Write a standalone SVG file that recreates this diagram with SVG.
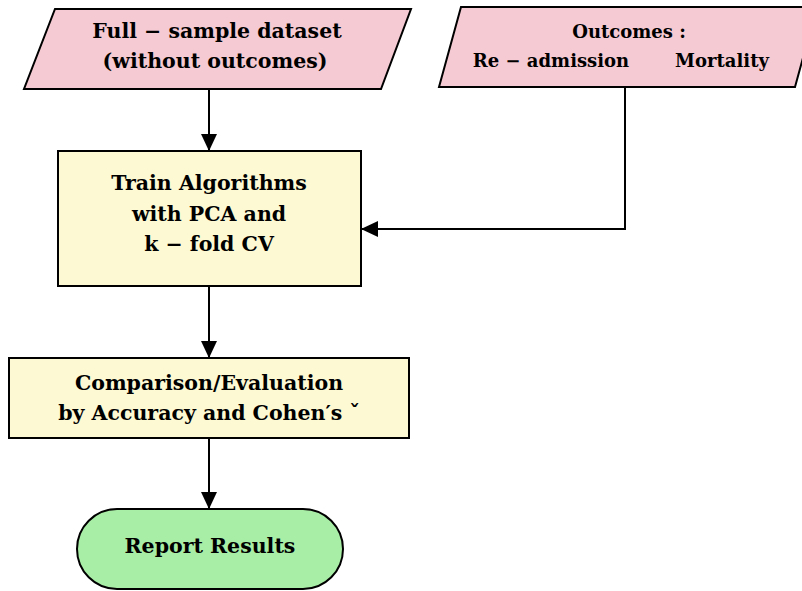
<svg xmlns="http://www.w3.org/2000/svg" width="802" height="591" viewBox="0 0 802 591">
  <defs>
    <marker id="arrow" viewBox="0 0 17 16" refX="17" refY="8" markerWidth="17" markerHeight="16" markerUnits="userSpaceOnUse" orient="auto">
      <path d="M0,0 L17,8 L0,16 z" fill="#000"/>
    </marker>
    <style>
      .shape { stroke: #000; stroke-width: 2; }
      .data { fill: #F5CAD2; }
      .proc { fill: #FDF9D3; }
      .term { fill: #A9EEA6; }
      .lbl { font-family: "DejaVu Serif", "Liberation Serif", serif; font-weight: bold; font-size: 20.5px; fill: #000; text-anchor: middle; }
      .sm { font-size: 18px; }
      .edge { fill: none; stroke: #000; stroke-width: 2; marker-end: url(#arrow); }
    </style>
  </defs>
  <rect width="802" height="591" fill="#fff"/>

  <g id="dataset">
    <polygon class="shape data" points="55,9 411,9 381,89 24,89"/>
    <text class="lbl" x="217" y="38">Full − sample dataset</text>
    <text class="lbl" x="215" y="68">(without outcomes)</text>
  </g>

  <g id="outcomes">
    <polygon class="shape data" points="461,7 817,7 795,87 439,87"/>
    <text class="lbl sm" x="629" y="38">Outcomes :</text>
    <text class="lbl sm" x="551" y="67">Re − admission</text>
    <text class="lbl sm" x="722" y="67">Mortality</text>
  </g>

  <g id="train">
    <rect class="shape proc" x="58" y="151" width="303" height="135"/>
    <text class="lbl" x="209" y="190">Train Algorithms</text>
    <text class="lbl" x="209" y="221">with PCA and</text>
    <text class="lbl" x="209" y="251">k − fold CV</text>
  </g>

  <g id="evaluate">
    <rect class="shape proc" x="9" y="358" width="400" height="80"/>
    <text class="lbl" x="209" y="390">Comparison/Evaluation</text>
    <text class="lbl" x="209" y="420">by Accuracy and Cohen′s ˇ</text>
  </g>

  <g id="report">
    <rect class="shape term" x="77" y="509" width="266" height="80" rx="40" ry="40"/>
    <text class="lbl" x="210" y="553">Report Results</text>
  </g>

  <g id="connectors">
    <path class="edge" d="M209,89 L209,151"/>
    <path class="edge" d="M625,87 L625,229 L361,229"/>
    <path class="edge" d="M209,286 L209,358"/>
    <path class="edge" d="M209,438 L209,509"/>
  </g>
</svg>
